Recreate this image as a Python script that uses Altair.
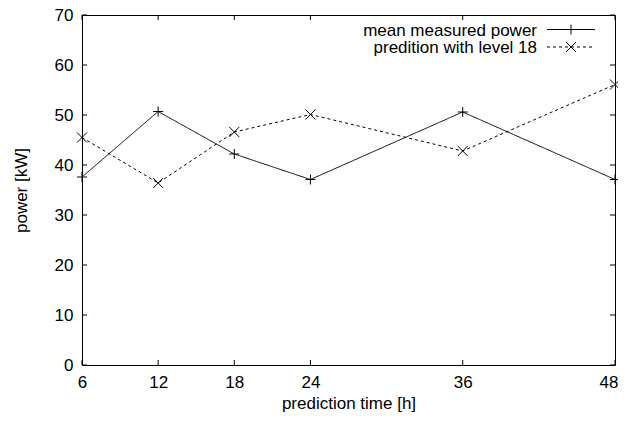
import altair as alt
import pandas as pd

hours = [6, 12, 18, 24, 36, 48]
measured = [37.6, 50.7, 42.2, 37.1, 50.6, 37.1]
predicted = [45.5, 36.4, 46.6, 50.1, 42.8, 56.1]
series = ["mean measured power", "predition with level 18"]
x_ticks = [6, 12, 18, 24, 36, 48]
y_ticks = [0, 10, 20, 30, 40, 50, 60, 70]

W, H = 533, 350
FONT = "Liberation Sans"
FS = 17
PLUS = "M-1,0L1,0M0,-1L0,1"
CROSS = "M-1,-1L1,1M-1,1L1,-1"
DASHES = [[1, 0], [3, 3]]

rows = []
for h, m, p in zip(hours, measured, predicted):
    rows.append({"hours": h, "power": m, "series": series[0]})
    rows.append({"hours": h, "power": p, "series": series[1]})
df = pd.DataFrame(rows)
df_xt = pd.DataFrame({"t": x_ticks})
df_yt = pd.DataFrame({"t": y_ticks})
df_leg = pd.DataFrame({"series": series})

xs = alt.Scale(domain=[6, 48], nice=False, zero=False)
ys = alt.Scale(domain=[0, 70], nice=False, zero=False)

last_x = "datum.value === %d" % x_ticks[-1]
x_enc = alt.X("hours:Q", scale=xs, title="prediction time [h]",
              axis=alt.Axis(values=x_ticks, ticks=False, domain=False, grid=False,
                            labelFont=FONT, labelFontSize=FS, labelColor="black",
                            labelPadding=9, titleFont=FONT, titleFontSize=FS,
                            titleFontWeight="normal", titleColor="black", titlePadding=5,
                            labelFlush=False,
                            labelAlign={"condition": {"test": last_x, "value": "right"}, "value": "center"},
                            labelOffset={"condition": {"test": last_x, "value": 3}, "value": 0}))
y_enc = alt.Y("power:Q", scale=ys, title="power [kW]",
              axis=alt.Axis(values=y_ticks, ticks=False, domain=False, grid=False,
                            labelFont=FONT, labelFontSize=FS, labelColor="black",
                            labelPadding=9, titleFont=FONT, titleFontSize=FS,
                            titleFontWeight="normal", titleColor="black", titlePadding=24))

lines = alt.Chart(df).mark_line(color="black", strokeWidth=1).encode(
    x=x_enc, y=y_enc,
    strokeDash=alt.StrokeDash("series:N", scale=alt.Scale(domain=series, range=DASHES), legend=None),
)
points = alt.Chart(df).mark_point(filled=False, color="black", strokeWidth=1, size=100, opacity=1).encode(
    x=alt.X("hours:Q", scale=xs), y=alt.Y("power:Q", scale=ys),
    shape=alt.Shape("series:N", scale=alt.Scale(domain=series, range=[PLUS, CROSS]), legend=None),
)

tick_x_bot = alt.Chart(df_xt).mark_rule(color="black", strokeWidth=1).encode(
    x=alt.X("t:Q", scale=xs), y=alt.value(H), y2=alt.value(H - 5))
tick_x_top = alt.Chart(df_xt).mark_rule(color="black", strokeWidth=1).encode(
    x=alt.X("t:Q", scale=xs), y=alt.value(0), y2=alt.value(5))
tick_y_left = alt.Chart(df_yt).mark_rule(color="black", strokeWidth=1).encode(
    y=alt.Y("t:Q", scale=ys), x=alt.value(0), x2=alt.value(5))
tick_y_right = alt.Chart(df_yt).mark_rule(color="black", strokeWidth=1).encode(
    y=alt.Y("t:Q", scale=ys), x=alt.value(W - 5), x2=alt.value(W))

legend_layers = []
row_y = [14.5, 32]
for i, s in enumerate(series):
    base = alt.Chart(df_leg).transform_filter(alt.datum.series == s)
    legend_layers.append(base.mark_text(align="right", baseline="middle", font=FONT,
                                        fontSize=FS, color="black").encode(
        text="series:N", x=alt.value(455), y=alt.value(row_y[i] + 1)))
    legend_layers.append(base.mark_rule(color="black", strokeWidth=1, strokeDash=DASHES[i]).encode(
        x=alt.value(465), x2=alt.value(513), y=alt.value(row_y[i])))
    legend_layers.append(base.mark_point(filled=False, color="black", strokeWidth=1, size=100,
                                         opacity=1, shape=[PLUS, CROSS][i]).encode(
        x=alt.value(489), y=alt.value(row_y[i])))

chart = alt.layer(
    lines, points, tick_x_bot, tick_x_top, tick_y_left, tick_y_right, *legend_layers
).properties(
    width=W, height=H,
    autosize=alt.AutoSizeParams(type="none"),
    padding={"left": 74, "top": 7, "right": 3, "bottom": 49},
    background="white",
).configure_view(stroke="black", strokeWidth=1)

chart.save("out.html", embed_options={"renderer": "svg", "actions": False})
